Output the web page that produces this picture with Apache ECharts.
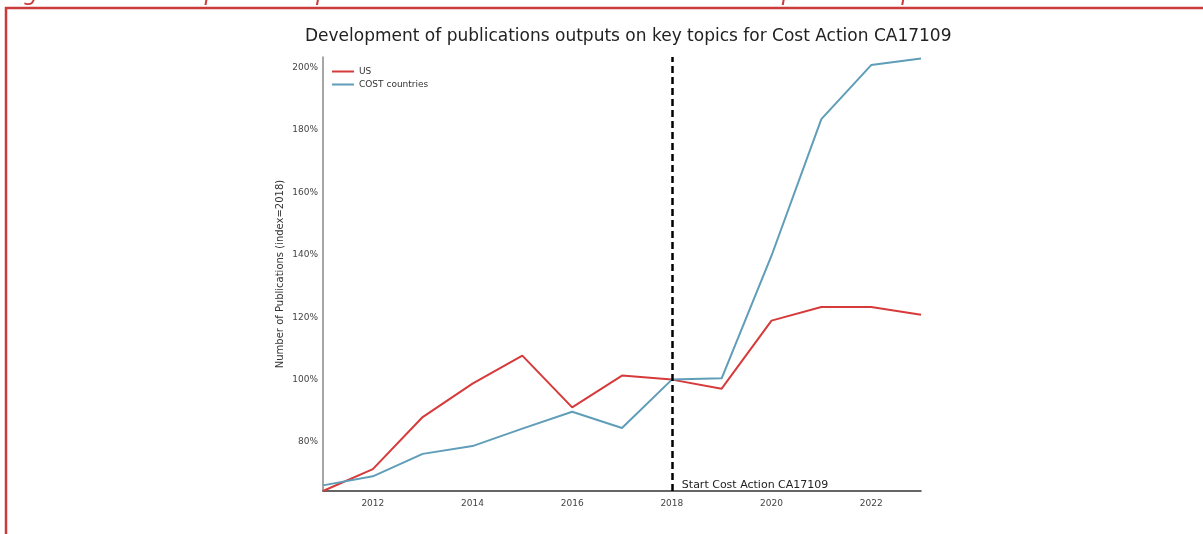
<!DOCTYPE html>
<html>
<head>
<meta charset="utf-8">
<script src="https://cdn.jsdelivr.net/npm/echarts@6/dist/echarts.min.js"></script>
<style>html,body{margin:0;padding:0;background:#fff}#c{width:1203px;height:534px}</style>
</head>
<body>
<div id="c"></div>
<script>
const years = ['2011','2012','2013','2014','2015','2016','2017','2018','2019','2020','2021','2022','2023'];
const usValues = [64.3, 71.3, 88.0, 98.7, 107.7, 91.1, 101.3, 100.0, 97.1, 118.9, 123.3, 123.3, 120.8];
const costValues = [66.1, 69.0, 76.2, 78.7, 84.3, 89.7, 84.5, 100.0, 100.4, 139.7, 183.5, 200.8, 202.9];
const yTicks = [80, 100, 120, 140, 160, 180, 200];
const startYear = '2018';
const FONT = 'DejaVu Sans';

const chart = echarts.init(document.getElementById('c'), null, {renderer: 'canvas'});
chart.setOption({
  animation: false,
  backgroundColor: '#fff',
  title: {
    text: 'Development of publications outputs on key topics for Cost Action CA17109',
    left: 300, top: 23,
    textStyle: {fontFamily: FONT, fontSize: 17, fontWeight: 'normal', color: '#222'}
  },
  graphic: [
    {type: 'text', left: 4, top: -17, silent: true,
     style: {text: 'Figure 7 – Development of publication numbers over time on the topic of compound events',
       fontFamily: FONT, fontSize: 23, fontStyle: 'italic', fill: '#cc3b3b'}},
    {type: 'line', shape: {x1: 5, y1: 8, x2: 1203, y2: 8}, style: {stroke: '#cc3b3b', lineWidth: 2.5}},
    {type: 'line', shape: {x1: 6, y1: 7, x2: 6, y2: 534}, style: {stroke: '#cc3b3b', lineWidth: 2.5}}
  ],
  legend: {
    orient: 'vertical', left: 332, top: 67, padding: 0, itemWidth: 22, itemHeight: 2, itemGap: 4,
    icon: 'rect',
    textStyle: {fontFamily: FONT, fontSize: 9, color: '#333'},
    data: ['US', 'COST countries']
  },
  grid: {left: 323, top: 57, right: 282, bottom: 43},
  xAxis: {
    type: 'category', data: years, boundaryGap: false,
    axisLine: {lineStyle: {color: '#333', width: 1.5}},
    axisTick: {show: false},
    axisLabel: {interval: function (i) { return i % 2 === 1; }, fontFamily: FONT, fontSize: 9, color: '#444', margin: 8},
    splitLine: {show: false}
  },
  yAxis: {
    type: 'value', min: 64.3, max: 203.4,
    name: 'Number of Publications (index=2018)', nameLocation: 'middle', nameGap: 38,
    nameTextStyle: {fontFamily: FONT, fontSize: 10, color: '#333'},
    axisLine: {show: true, lineStyle: {color: '#888', width: 1.5}},
    axisTick: {show: false},
    axisLabel: {customValues: yTicks, formatter: function (v) { return Math.round(v) + '%'; },
      fontFamily: FONT, fontSize: 9, color: '#444', margin: 5},
    splitLine: {show: false}
  },
  series: [
    {name: 'US', type: 'line', data: usValues, symbol: 'none', color: '#d63a3a',
     lineStyle: {width: 2, color: '#d63a3a'},
     markLine: {silent: true, symbol: 'none', label: {show: false},
       lineStyle: {color: '#000', width: 2.5, type: [7, 4]},
       data: [{xAxis: startYear}]},
     markPoint: {silent: true, symbol: 'circle', symbolSize: 0,
       data: [{coord: [startYear, 64.3]}],
       label: {show: true, formatter: 'Start Cost Action CA17109', position: 'right', distance: 10,
         offset: [0, -6], fontFamily: FONT, fontSize: 11, color: '#222'}}
    },
    {name: 'COST countries', type: 'line', data: costValues, symbol: 'none', color: '#5f9db8',
     lineStyle: {width: 2, color: '#5f9db8'}}
  ]
});
</script>
</body>
</html>
